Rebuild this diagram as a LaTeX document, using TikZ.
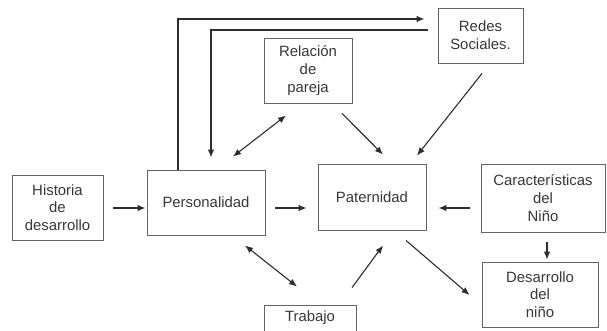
\documentclass[tikz,border=0pt]{standalone}
\usepackage{fontspec}
\setmainfont{Liberation Sans}
\usetikzlibrary{arrows.meta}
\definecolor{boxgray}{RGB}{100,100,100}
\definecolor{arrowgray}{RGB}{45,45,45}
\definecolor{textgray}{RGB}{55,55,55}

\begin{document}
\begin{tikzpicture}[x=1pt,y=-1pt,
  box/.style={draw=boxgray,line width=0.9pt,inner sep=0pt,align=center,text=textgray,
    font=\fontsize{14.9}{17.8}\selectfont},
  arr/.style={draw=arrowgray,line width=1.1pt,-{Latex[length=8pt,width=6.5pt]}},
  dblarr/.style={arr,{Latex[length=8pt,width=6.5pt]}-{Latex[length=8pt,width=6.5pt]}}]
\useasboundingbox (0,0) rectangle (607,330);
% Boxes
\node[box,minimum width=91pt,minimum height=65pt] (hist) at (57.5,207.5) {Historia\\de\\desarrollo};
\node[box,minimum width=118pt,minimum height=65pt] (pers) at (206,202.5) {Personalidad};
\node[box,minimum width=108pt,minimum height=66pt] (pat) at (372,197) {Paternidad};
\node[box,minimum width=124pt,minimum height=68pt] (car) at (543,198) {Características\\del\\Niño};
\node[box,minimum width=116pt,minimum height=65pt] (des) at (540,294.5) {Desarrollo\\del\\niño};
\node[box,minimum width=92pt,minimum height=26pt] (trab) at (310,318) {Trabajo};
\node[box,minimum width=88pt,minimum height=65pt] (rel) at (308,70.5) {Relación\\de\\pareja};
\node[box,minimum width=85pt,minimum height=55pt] (red) at (480.5,35.5) {Redes\\Sociales.};
% Straight arrows
\draw[arr] ([shift={(10pt,-0.5pt)}]hist.east) -- ([shift={(-1pt,-5.5pt)}]pers.west); % historia
\draw[arr] ([shift={(10pt,-5.5pt)}]pers.east) -- ([shift={(-11pt,-11pt)}]pat.west); % personalidad
\draw[arr] ([shift={(-11pt,-10pt)}]car.west) -- ([shift={(12pt,-11pt)}]pat.east); % caracteristicas
\draw[arr] ([shift={(4pt,-10pt)}]car.south) -- ([shift={(7pt,2pt)}]des.north);
\draw[arr] ([shift={(34pt,-10pt)}]pat.south) -- ([shift={(-12pt,-0.5pt)}]des.west);
\draw[arr] ([shift={(42pt,17pt)}]trab.north) -- ([shift={(11pt,-15pt)}]pat.south); % trabajo
\draw[arr] ([shift={(34pt,-10pt)}]rel.south) -- ([shift={(11pt,9pt)}]pat.north); % pareja
\draw[arr] ([shift={(1.5pt,-10pt)}]red.south) -- ([shift={(45pt,8pt)}]pat.north); % redes
% Double arrows
\draw[dblarr] ([shift={(39pt,-10pt)}]pers.south) -- ([shift={(-13pt,18pt)}]trab.north);
\draw[dblarr] ([shift={(27pt,13pt)}]pers.north) -- ([shift={(-22pt,-12pt)}]rel.south);
% Loop round the top
\draw[arr] ([xshift=-28pt]pers.north) |- ([shift={(-13pt,16.5pt)}]red.west);
\draw[arr] ([shift={(-10pt,5.5pt)}]red.west) -| ([shift={(5pt,12pt)}]pers.north);
\end{tikzpicture}
\end{document}
